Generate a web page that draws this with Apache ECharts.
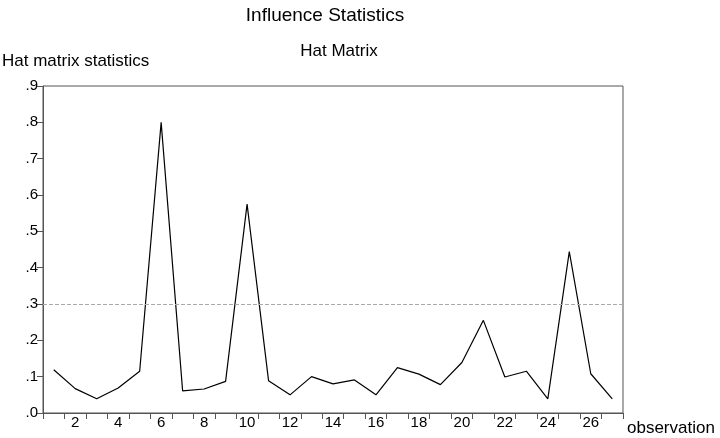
<!DOCTYPE html>
<html><head><meta charset="utf-8">
<script src="https://cdn.jsdelivr.net/npm/echarts@6/dist/echarts.min.js"></script>
<style>html,body{margin:0;padding:0;background:#fff}#c{width:720px;height:438px}</style>
</head><body><div id="c"></div>
<script>
var observations = ['1','2','3','4','5','6','7','8','9','10','11','12','13','14','15','16','17','18','19','20','21','22','23','24','25','26','27'];
var hatValues = [0.119,0.067,0.039,0.069,0.115,0.800,0.061,0.066,0.087,0.575,0.089,0.050,0.100,0.080,0.091,0.050,0.125,0.107,0.078,0.139,0.255,0.099,0.115,0.039,0.444,0.108,0.039];
var cutoff = 0.2963;
var yTicks = ['.0','.1','.2','.3','.4','.5','.6','.7','.8','.9'];

var font = 'Liberation Sans, Arial, sans-serif';
var chart = echarts.init(document.getElementById('c'));
chart.setOption({
  animation: false,
  title: [
    {text: 'Influence Statistics', left: 320, top: 1, textAlign: 'center',
     textStyle: {fontFamily: font, fontSize: 19, fontWeight: 'normal', color: '#000'}},
    {text: 'Hat Matrix', left: 334, top: 38, textAlign: 'center',
     textStyle: {fontFamily: font, fontSize: 17, fontWeight: 'normal', color: '#000'}}
  ],
  grid: {left: 43, top: 86, right: 97, bottom: 25, show: true, borderColor: '#555', borderWidth: 1,
         containLabel: false, outerBoundsMode: 'none'},
  xAxis: {
    type: 'category', data: observations, boundaryGap: true,
    name: 'observation', nameLocation: 'end', nameGap: 4,
    nameTextStyle: {fontFamily: font, fontSize: 17, color: '#000', verticalAlign: 'top', padding: [7,0,0,0]},
    axisLine: {lineStyle: {color: '#555'}},
    axisTick: {show: true, inside: false, length: 6, lineStyle: {color: '#555'}, interval: 0},
    axisLabel: {fontFamily: font, fontSize: 15, color: '#000', margin: 2,
      interval: function (i) { return i % 2 === 1; }}
  },
  yAxis: {
    type: 'value', min: 0, max: 0.9, interval: 0.1,
    name: 'Hat matrix statistics', nameLocation: 'end', nameGap: 16,
    nameTextStyle: {fontFamily: font, fontSize: 17, color: '#000', align: 'left', padding: [0,0,0,-41]},
    axisLine: {show: true, lineStyle: {color: '#555'}},
    axisTick: {show: true, inside: false, length: 6, lineStyle: {color: '#555'}},
    splitLine: {show: false},
    axisLabel: {fontFamily: font, fontSize: 15, color: '#000', margin: 5,
      formatter: function (v) { return yTicks[Math.round(v * 10)]; }}
  },
  series: [{
    type: 'line', data: hatValues, symbol: 'none',
    lineStyle: {color: '#000', width: 1.2},
    markLine: {
      silent: true, symbol: 'none', label: {show: false},
      lineStyle: {color: '#aaa', type: 'dashed', width: 1},
      data: [{yAxis: cutoff}]
    }
  }]
});
</script></body></html>
